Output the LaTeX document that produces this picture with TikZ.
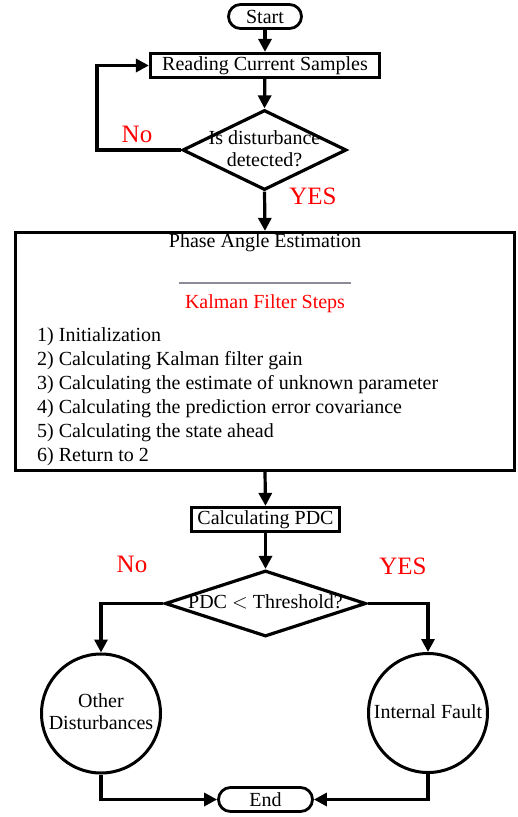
\documentclass[tikz,border=0pt]{standalone}
\usepackage{fontspec}
\setmainfont{Liberation Serif}
\usetikzlibrary{arrows.meta,shapes.geometric}
\begin{document}
\begin{tikzpicture}[x=1pt,y=-1pt,
 every node/.style={font=\fontsize{20}{22}\selectfont},
 box/.style={draw, line width=3.2pt, fill=white, inner sep=0pt},
 term/.style={draw, line width=2.8pt, rounded corners=12pt, inner sep=0pt, fill=white},
 dia/.style={draw, diamond, line width=3.2pt, inner sep=0pt},
 circ/.style={draw, circle, line width=3pt, inner sep=0pt, minimum size=119pt},
 arr/.style={line width=3.2pt, -{Triangle[length=13pt,width=13pt]}},
 lab/.style={text=red, font=\fontsize{25}{28}\selectfont}
]
\useasboundingbox (0,0) rectangle (518,817);

% nodes
\node[term, minimum width=73pt, minimum height=24pt] (start) at (265,16.5) {Start};
\node[box, minimum width=229pt, minimum height=24pt] (read) at (265,65.5) {Reading Current Samples};
\node[dia, minimum width=164pt, minimum height=80pt] (d1) at (264.5,150) {};
\node[align=center, font=\fontsize{20}{22}\selectfont] (d1t) at (264.5,149) {Is disturbance\\detected?};

\node[box, minimum width=499pt, minimum height=238pt] (big) at (265,351.5) {};
\node (pae) at (265,243) {Phase Angle Estimation};
\draw[line width=1.5pt, color={rgb,255:red,140;green,140;blue,150}] (179,283) -- (351,283);
\node[text=red] (kfs) at (265,304) {Kalman Filter Steps};
\node[align=left, anchor=west, inner sep=0pt, font=\fontsize{20}{24}\selectfont] (steps) at (37,397)
 {1) Initialization\\
  2) Calculating Kalman filter gain\\
  3) Calculating the estimate of unknown parameter\\
  4) Calculating the prediction error covariance\\
  5) Calculating the state ahead\\
  6) Return to 2};

\node[box, minimum width=148pt, minimum height=24pt] (pdc) at (265.5,519.5) {Calculating PDC};
\node[dia, minimum width=201pt, minimum height=66pt] (d2) at (265.5,603.5) {};
\node (d2t) at (265.5,602) {PDC $<$ Threshold?};

\node[circ] (c1) at (101,713.5) {};
\node[align=center, font=\fontsize{20}{22}\selectfont] (c1t) at (101,712) {Other\\Disturbances};
\node[circ] (c2) at (428,713) {};
\node (c2t) at (428,712) {Internal Fault};

\node[term, minimum width=94pt, minimum height=24pt] (end) at (265.5,799.5) {End};

% labels
\node[lab] (no1) at (137,134) {No};
\node[lab] (yes1) at (313,196) {YES};
\node[lab] (no2) at (132,564) {No};
\node[lab] (yes2) at (403,566) {YES};

% connectors
\coordinate (lp) at (97,150);
\draw[arr] (start) -- (read);
\draw[arr] (read) -- (d1.north);
\draw[arr] (d1.west) -- (lp) |- (read.west);
\draw[arr] (d1.south) -- (big.north);
\draw[arr] (big.south) -- (pdc.north);
\draw[arr] (pdc) -- (d2.north);
\draw[arr] (d2.west) -| (c1.north);
\draw[arr] (d2.east) -| (c2.north);
\draw[arr] (c1.south) |- (end.west);
\draw[arr] (c2.south) |- (end.east);
\end{tikzpicture}
\end{document}
